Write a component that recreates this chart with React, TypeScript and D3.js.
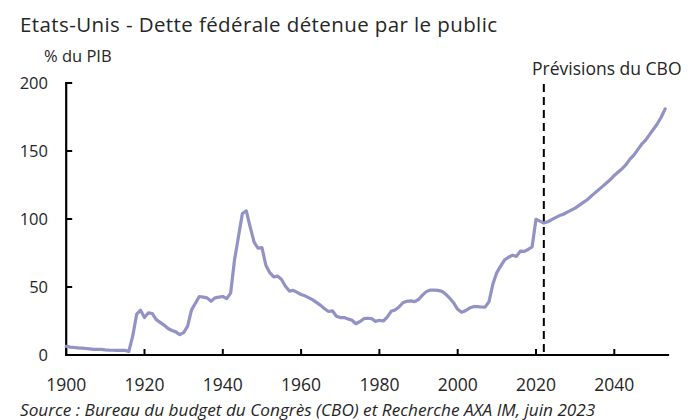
import React from "react";
import * as d3 from "d3";

const histYears: number[] = d3.range(1900, 2023);
const histValues: number[] = [
  6.3, 5.8, 5.5, 5.2, 5.0, 4.8, 4.5, 4.2, 4.1, 4.1,
  3.8, 3.6, 3.5, 3.4, 3.5, 3.4, 2.7, 14, 30, 33,
  27.5, 31, 30.5, 26, 24, 22, 19.5, 18, 17, 15,
  16.5, 21, 33, 38, 43, 42.5, 42, 39.5, 42, 42.5,
  43, 41.5, 45.5, 70, 87, 104, 106, 94, 83, 78.5,
  79, 66, 60.5, 57.5, 58, 55.5, 50.5, 47, 47.5, 46,
  44.5, 43.5, 42, 40.5, 38.5, 36.5, 34, 32, 32.5, 28.5,
  27.5, 27.5, 26.5, 25.5, 23, 24.5, 26.7, 27, 26.7, 24.7,
  25.5, 25, 27.9, 32.1, 33.1, 35.3, 38.4, 39.5, 39.8, 39.3,
  40.8, 44, 46.6, 47.8, 47.7, 47.5, 46.8, 44.5, 41.6, 38.2,
  33.6, 31.4, 32.5, 34.5, 35.5, 35.6, 35.3, 35.2, 39.3, 52.3,
  60.6, 65.5, 70.0, 71.9, 73.4, 72.5, 76.4, 76.2, 77.6, 79.4,
  99.8, 98.4, 97.0,
];
const projYears: number[] = d3.range(2023, 2054);
const projValues: number[] = [
  98, 99.5, 101, 102.5, 103.5, 105, 106.5, 108, 110, 112,
  114, 116.5, 119, 121.5, 124, 126.5, 129, 132, 134.5, 137,
  140, 144, 147, 151, 155, 158, 162, 166, 170, 175, 181,
];
const yTicks: number[] = [0, 50, 100, 150, 200];
const xTicks: number[] = [1900, 1920, 1940, 1960, 1980, 2000, 2020, 2040];
const forecastYear = 2022;

const title = "Etats-Unis - Dette fédérale détenue par le public";
const unitLabel = "% du PIB";
const forecastLabel = "Prévisions du CBO";
const sourceText = "Source : Bureau du budget du Congrès (CBO) et Recherche AXA IM, juin 2023";

export default function App() {
  const W = 696, H = 420;
  const x = d3.scaleLinear().domain([1900, 2054]).range([66.2, 669.1]);
  const y = d3.scaleLinear().domain([0, 200]).range([355, 83]);
  const years = histYears.concat(projYears);
  const values = histValues.concat(projValues);
  const pts: [number, number][] = years.map((yr, i) => [yr, values[i]]);
  const line = d3.line<[number, number]>().x(d => x(d[0])).y(d => y(d[1]));
  const font = "'Open Sans', sans-serif";
  const textCol = "#262626";
  return (
    <div style={{ position: "fixed", left: 0, top: 0 }}>
      <svg width={W} height={H} style={{ display: "block", background: "#fff" }} fontFamily={font}>
        <text x={20} y={32} fontSize={20.5} letterSpacing={0.4} fill={textCol}>{title}</text>
        <text x={44} y={62} fontSize={16.5} fill={textCol}>{unitLabel}</text>
        <text x={532} y={75} fontSize={17.5} fill={textCol}>{forecastLabel}</text>
        {yTicks.map(t => (
          <g key={t}>
            <line x1={x(1900)} x2={x(1900) + 6} y1={y(t)} y2={y(t)} stroke="#000" strokeWidth={2} />
            <text x={48} y={y(t) + 6} fontSize={16.5} textAnchor="end" fill={textCol}>{t}</text>
          </g>
        ))}
        {xTicks.map(t => (
          <g key={t}>
            <line x1={x(t)} x2={x(t)} y1={y(0)} y2={y(0) - 6} stroke="#000" strokeWidth={2} />
            <text x={x(t)} y={391} fontSize={17.5} textAnchor="middle" fill={textCol}>{t}</text>
          </g>
        ))}
        <line x1={x(1900)} x2={x(1900)} y1={y(200) - 1} y2={y(0) + 1} stroke="#000" strokeWidth={2.2} />
        <line x1={x(1900) - 1} x2={x(2054)} y1={y(0)} y2={y(0)} stroke="#000" strokeWidth={2.2} />
        <line x1={x(forecastYear)} x2={x(forecastYear)} y1={84} y2={y(0)} stroke="#000" strokeWidth={2} strokeDasharray="8,5" />
        <path d={line(pts) || ""} fill="none" stroke="#9292c4" strokeWidth={3.2} strokeLinejoin="round" strokeLinecap="round" />
        <text x={20} y={416} fontSize={17.2} fontStyle="italic" fill={textCol}>{sourceText}</text>
      </svg>
    </div>
  );
}
